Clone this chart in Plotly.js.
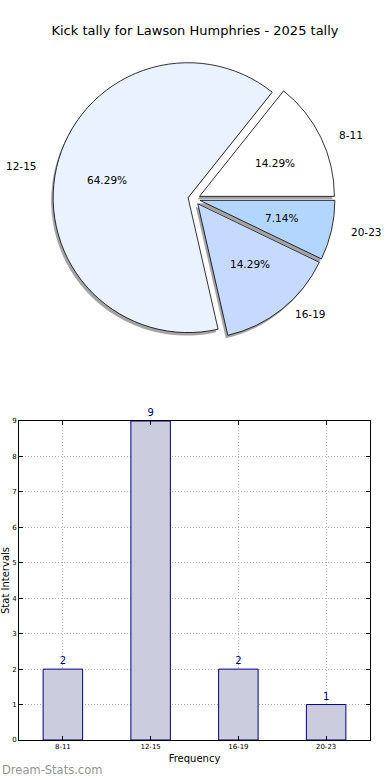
<!DOCTYPE html>
<html>
<head>
<meta charset="utf-8">
<script src="https://cdn.plot.ly/plotly-3.0.1.min.js"></script>
<style>html,body{margin:0;padding:0;background:#fff;}#chart{width:390px;height:780px;}</style>
</head>
<body>
<div id="chart"></div>
<script>
// ---- data ----
const categories = ['8-11', '12-15', '16-19', '20-23'];
const counts = [2, 9, 2, 1];
const chartTitle = 'Kick tally for Lawson Humphries - 2025 tally';
const xTitle = 'Frequency';
const yTitle = 'Stat Intervals';
const watermark = 'Dream-Stats.com';

// ---- styles ----
const FONT = 'DejaVu Sans, Liberation Sans, sans-serif';
const pieColors = ['#ffffff', '#eaf1ff', '#c6d9ff', '#b3d6ff'];
const W = 390, H = 780;
const px2x = p => p / W;
const px2y = p => 1 - p / H;

const total = counts.reduce((a, b) => a + b, 0);
// Plotly (counterclockwise) ends the first slice at `rotation`; shift so it starts at 3 o'clock
const pieRotation = 90 - 360 * counts[0] / total;

const pull = 0.045;
const pieCx = 194, pieCy = 199, pieHalf = 141;
const pieDomain = {x: [px2x(pieCx - pieHalf), px2x(pieCx + pieHalf)], y: [px2y(pieCy + pieHalf), px2y(pieCy - pieHalf)]};
const shDx = -2, shDy = 3;
const shadowDomain = {x: [px2x(pieCx - pieHalf + shDx), px2x(pieCx + pieHalf + shDx)], y: [px2y(pieCy + pieHalf + shDy), px2y(pieCy - pieHalf + shDy)]};

// unit-radius text axes laid over the pie (slightly elliptical, as in the original)
const textRx = 139, textRy = 129, textSpan = 1.3;
const pctDistance = 0.6, labelDistance = 1.1;

const pieCommon = {
  type: 'pie', labels: categories, values: counts, sort: false,
  direction: 'counterclockwise', rotation: pieRotation, pull: pull,
  showlegend: false, hoverinfo: 'label+value+percent'
};

const shadow = Object.assign({}, pieCommon, {
  domain: shadowDomain,
  marker: {colors: categories.map(() => 'rgba(90,90,90,0.55)'), line: {width: 0}},
  textinfo: 'none', hoverinfo: 'skip'
});

const pieMain = Object.assign({}, pieCommon, {
  domain: pieDomain,
  marker: {colors: pieColors, line: {color: '#000000', width: 0.8}},
  textinfo: 'none'
});

const bars = {
  type: 'bar', x: categories, y: counts, xaxis: 'x', yaxis: 'y',
  width: 0.45,
  marker: {color: '#ccccdf', line: {color: '#000080', width: 1}},
  text: counts.map(String), textposition: 'outside', cliponaxis: false,
  textfont: {family: FONT, size: 10, color: '#000080'},
  showlegend: false
};

// empty anchor trace for the pie-text axes
const pieTextAxes = {type: 'scatter', x: [], y: [], xaxis: 'x2', yaxis: 'y2', showlegend: false, hoverinfo: 'skip'};

// slice text annotations, positioned from the data through the x2/y2 axes
const pieAnnotations = [];
let cum = 0;
counts.forEach((v, i) => {
  const mid = 2 * Math.PI * (cum + v / 2) / total;
  cum += v;
  const c = Math.cos(mid), s = Math.sin(mid);
  const kp = pctDistance + pull, kl = labelDistance + pull;
  pieAnnotations.push({
    text: (100 * v / total).toFixed(2) + '%', xref: 'x2', yref: 'y2',
    x: kp * c, y: kp * s, xanchor: 'center', yanchor: 'middle', showarrow: false,
    font: {family: FONT, size: 10.5, color: '#000000'}
  });
  pieAnnotations.push({
    text: categories[i], xref: 'x2', yref: 'y2',
    x: kl * c, y: kl * s, xanchor: c >= 0 ? 'left' : 'right', yanchor: 'middle', showarrow: false,
    font: {family: FONT, size: 10.5, color: '#000000'}
  });
});

const gridStyle = {showgrid: true, gridcolor: '#b4b4b4', griddash: '1px,2px', gridwidth: 1};

const layout = {
  width: W, height: H,
  margin: {l: 0, r: 0, t: 0, b: 0},
  paper_bgcolor: '#ffffff', plot_bgcolor: 'rgba(0,0,0,0)',
  font: {family: FONT, color: '#000000'},
  title: {text: chartTitle, x: 0.5, xanchor: 'center', xref: 'paper', y: px2y(30), yanchor: 'middle', yref: 'paper',
          font: {family: FONT, size: 13, color: '#000000'}},
  xaxis: Object.assign({
    domain: [px2x(19), px2x(370)], anchor: 'y',
    type: 'category', range: [-0.5, 3.5],
    showline: true, mirror: 'ticks', linecolor: '#000000', linewidth: 1,
    ticks: 'inside', ticklen: 4, tickcolor: '#000000',
    tickfont: {family: FONT, size: 7, color: '#000000'},
    title: {text: xTitle, font: {family: FONT, size: 10, color: '#000000'}, standoff: 4},
    zeroline: false, fixedrange: true
  }, gridStyle),
  yaxis: Object.assign({
    domain: [px2y(740), px2y(421)], anchor: 'x',
    range: [0, 9], dtick: 1, tick0: 0,
    showline: true, mirror: 'ticks', linecolor: '#000000', linewidth: 1,
    ticks: 'inside', ticklen: 4, tickcolor: '#000000',
    tickfont: {family: FONT, size: 7, color: '#000000'},
    title: {text: yTitle, font: {family: FONT, size: 10, color: '#000000'}, standoff: 1},
    zeroline: false, fixedrange: true
  }, gridStyle),
  xaxis2: {domain: [px2x(pieCx - textRx * textSpan), px2x(pieCx + textRx * textSpan)], range: [-textSpan, textSpan],
           anchor: 'y2', visible: false, fixedrange: true},
  yaxis2: {domain: [px2y(pieCy + textRy * textSpan), px2y(pieCy - textRy * textSpan)], range: [-textSpan, textSpan],
           anchor: 'x2', visible: false, fixedrange: true},
  annotations: pieAnnotations.concat([{
    text: watermark, xref: 'paper', yref: 'paper', x: 0, y: px2y(770),
    xanchor: 'left', yanchor: 'middle', showarrow: false,
    font: {family: FONT, size: 11.5, color: '#959595'}
  }])
};

Plotly.newPlot('chart', [pieTextAxes, shadow, pieMain, bars], layout, {displayModeBar: false, staticPlot: true});
</script>
</body>
</html>
